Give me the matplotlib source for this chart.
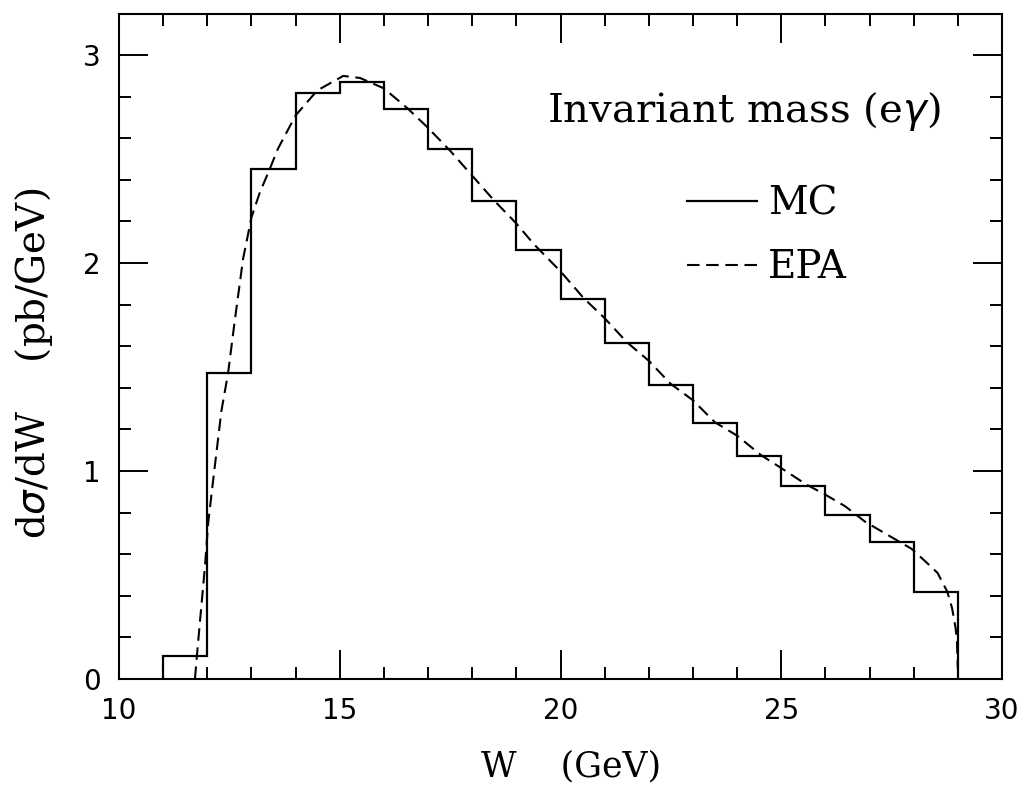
import numpy as np
import matplotlib
matplotlib.use('Agg')
import matplotlib.pyplot as plt
from matplotlib.lines import Line2D
from matplotlib.ticker import MultipleLocator

# MC histogram, 1 GeV bins
mc_edges = [11, 12, 13, 14, 15, 16, 17, 18, 19, 20, 21, 22, 23, 24, 25, 26, 27, 28, 29]
mc_values = [0.11, 1.47, 2.45, 2.82, 2.87, 2.74, 2.55, 2.30, 2.065, 1.825,
             1.615, 1.415, 1.23, 1.07, 0.93, 0.79, 0.66, 0.42]

# EPA curve
epa_w = [11.72, 11.78, 11.95, 12.02, 12.14, 12.32, 12.47, 12.62, 12.81, 13.0,
         13.19, 13.41, 13.6, 14.0, 14.49, 15.08, 15.46, 16.0, 16.53, 17.0,
         17.5, 18.0, 18.5, 19.0, 19.4, 20.0, 20.53, 21.0, 21.5, 22.0,
         22.49, 23.0, 23.5, 24.0, 24.55, 25.0, 25.56, 26.0, 26.45, 26.9,
         27.35, 27.95, 28.24, 28.54, 28.76, 28.87, 28.95, 28.98, 29.0]
epa_v = [0.0, 0.15, 0.55, 0.75, 0.97, 1.29, 1.47, 1.72, 2.02, 2.22,
         2.34, 2.45, 2.55, 2.71, 2.83, 2.90, 2.89, 2.84, 2.745, 2.65,
         2.54, 2.42, 2.30, 2.19, 2.09, 1.96, 1.83, 1.735, 1.62, 1.53,
         1.42, 1.34, 1.234, 1.17, 1.075, 1.014, 0.936, 0.886, 0.83, 0.756,
         0.70, 0.626, 0.57, 0.51, 0.42, 0.34, 0.244, 0.18, 0.05]

serif = 'DejaVu Serif'
dash = (6.0, 3.2)

fig = plt.figure(figsize=(10.19, 7.95), dpi=100)
ax = fig.add_axes([0.1168, 0.146, 0.8665, 0.837])

ax.stairs(mc_values, mc_edges, baseline=0, color='black', lw=1.6)
ax.plot(epa_w, epa_v, color='black', lw=1.5, dashes=dash)

ax.set_xlim(10, 30)
ax.set_ylim(0, 3.2)
ax.xaxis.set_major_locator(MultipleLocator(5))
ax.xaxis.set_minor_locator(MultipleLocator(1))
ax.yaxis.set_major_locator(MultipleLocator(1))
ax.yaxis.set_minor_locator(MultipleLocator(0.2))
ax.tick_params(which='both', direction='in', top=True, right=True, width=1.4)
ax.tick_params(which='major', length=21, labelsize=20, pad=13)
ax.tick_params(which='minor', length=8.5)
for s in ax.spines.values():
    s.set_linewidth(1.5)

ax.set_xlabel('W    (GeV)', fontsize=25, family=serif)
ax.xaxis.set_label_coords(0.512, -0.106)
ax.set_ylabel(r'd$\sigma$/dW    (pb/GeV)', fontsize=28, family=serif)
ax.yaxis.set_label_coords(-0.072, 0.474)

ax.text(0.93, 0.853, r'Invariant mass (e$\gamma$)', transform=ax.transAxes,
        fontsize=29, family=serif, ha='right', va='center')

handles = [Line2D([], [], color='black', lw=1.6),
           Line2D([], [], color='black', lw=1.5, dashes=dash)]
ax.legend(handles, ['MC', 'EPA'], loc='upper left', bbox_to_anchor=(0.643, 0.741),
          frameon=False, prop={'family': serif, 'size': 28},
          handlelength=1.8, handletextpad=0.28, labelspacing=0.68,
          borderpad=0, borderaxespad=0)

fig.savefig('out.png', dpi=100)
